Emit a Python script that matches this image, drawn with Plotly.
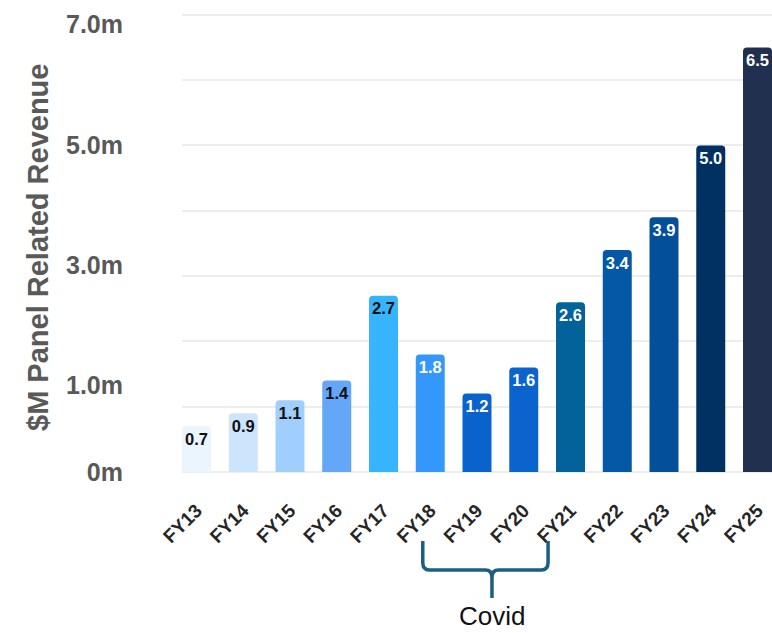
import plotly.graph_objects as go

# Fiscal years and panel-related revenue ($M)
years = ["FY13", "FY14", "FY15", "FY16", "FY17", "FY18", "FY19",
         "FY20", "FY21", "FY22", "FY23", "FY24", "FY25"]
revenue = [0.7, 0.9, 1.1, 1.4, 2.7, 1.8, 1.2, 1.6, 2.6, 3.4, 3.9, 5.0, 6.5]

# Bar fills, light to dark
bar_colors = ["#EAF5FE", "#CDE4FD", "#A0CEFD", "#64A6F8", "#38B4FE", "#3497FB",
              "#0A63CD", "#0B64CE", "#04629B", "#0558A3", "#034F99", "#013063",
              "#22304F"]
label_colors = ["#111111"] * 5 + ["#FFFFFF"] * 8

# Value-axis labels and the heights they sit at
ytick_text = ["0m", "1.0m", "3.0m", "5.0m", "7.0m"]
ytick_pos = [0.0, 1.33, 3.17, 5.01, 6.85]

# Span of the bracket marking the Covid years
covid_label = "Covid"
covid_first, covid_last = "FY18", "FY21"

YMAX = 7.15
GRAY = "#595959"

fig = go.Figure()
fig.add_trace(go.Bar(
    x=years, y=revenue,
    marker=dict(color=bar_colors, line=dict(width=0)),
    text=[f"{v:.1f}" for v in revenue],
    textposition="inside", insidetextanchor="end", textangle=0,
    constraintext="none",
    textfont=dict(family="Liberation Sans, Arial, sans-serif", size=18,
                  color=label_colors, weight="bold"),
    hoverinfo="skip", showlegend=False,
))
# invisible carrier for the labelled value axis
fig.add_trace(go.Scatter(
    x=[years[0]], y=[0], yaxis="y2", mode="markers",
    marker=dict(opacity=0), hoverinfo="skip", showlegend=False,
))

fig.update_layout(
    width=772, height=633,
    margin=dict(l=182, r=0, t=5, b=161),
    paper_bgcolor="white", plot_bgcolor="white",
    bargap=0.38, barcornerradius=4,
    font=dict(family="Liberation Sans, Arial, sans-serif"),
    xaxis=dict(
        type="category", range=[-0.31, 12.31],
        tickangle=-45, ticks="outside", ticklen=19, tickcolor="rgba(0,0,0,0)",
        tickfont=dict(size=19, color="#262626", weight="bold"),
        showgrid=False, showline=False, zeroline=False,
    ),
    yaxis=dict(
        range=[0, YMAX], dtick=1, tick0=0,
        showgrid=True, gridcolor="#EDEDED", gridwidth=2,
        zeroline=True, zerolinecolor="#EDEDED", zerolinewidth=2,
        showticklabels=False, showline=False,
    ),
    yaxis2=dict(
        overlaying="y", side="left", range=[0, YMAX],
        tickmode="array", tickvals=ytick_pos, ticktext=ytick_text,
        ticks="outside", ticklen=53, tickcolor="rgba(0,0,0,0)",
        tickfont=dict(size=25, color=GRAY, weight="bold"),
        showgrid=False, zeroline=False, showline=False,
    ),
)

# axis title
fig.add_annotation(
    text="$M Panel Related Revenue", textangle=-90,
    xref="paper", yref="paper", x=-0.243, y=0.481,
    xanchor="center", yanchor="middle",
    showarrow=False, font=dict(size=29, color=GRAY, weight="bold"),
)

# Covid bracket below the FY18-FY21 labels
i0, i1 = years.index(covid_first), years.index(covid_last)
xl, xr = i0 - 0.16, i1 - 0.48
xm = (i0 + i1) / 2 - 0.18
yt, yh, yb = -0.148, -0.210, -0.270
rx, ry = 0.14, 0.016
path = (
    f"M {xl},{yt} L {xl},{yh + ry} Q {xl},{yh} {xl + rx},{yh} "
    f"L {xm - rx},{yh} Q {xm},{yh} {xm},{yh - ry} L {xm},{yb} "
    f"M {xr},{yt} L {xr},{yh + ry} Q {xr},{yh} {xr - rx},{yh} "
    f"L {xm + rx},{yh} Q {xm},{yh} {xm},{yh - ry}"
)
fig.add_shape(type="path", path=path, xref="x", yref="paper",
              line=dict(color="#1B5F80", width=3.5))
fig.add_annotation(
    text=covid_label, xref="x", yref="paper", x=xm, y=-0.309,
    xanchor="center", yanchor="middle",
    showarrow=False, font=dict(size=26, color="#111111"),
)

fig.write_html("out.html")
